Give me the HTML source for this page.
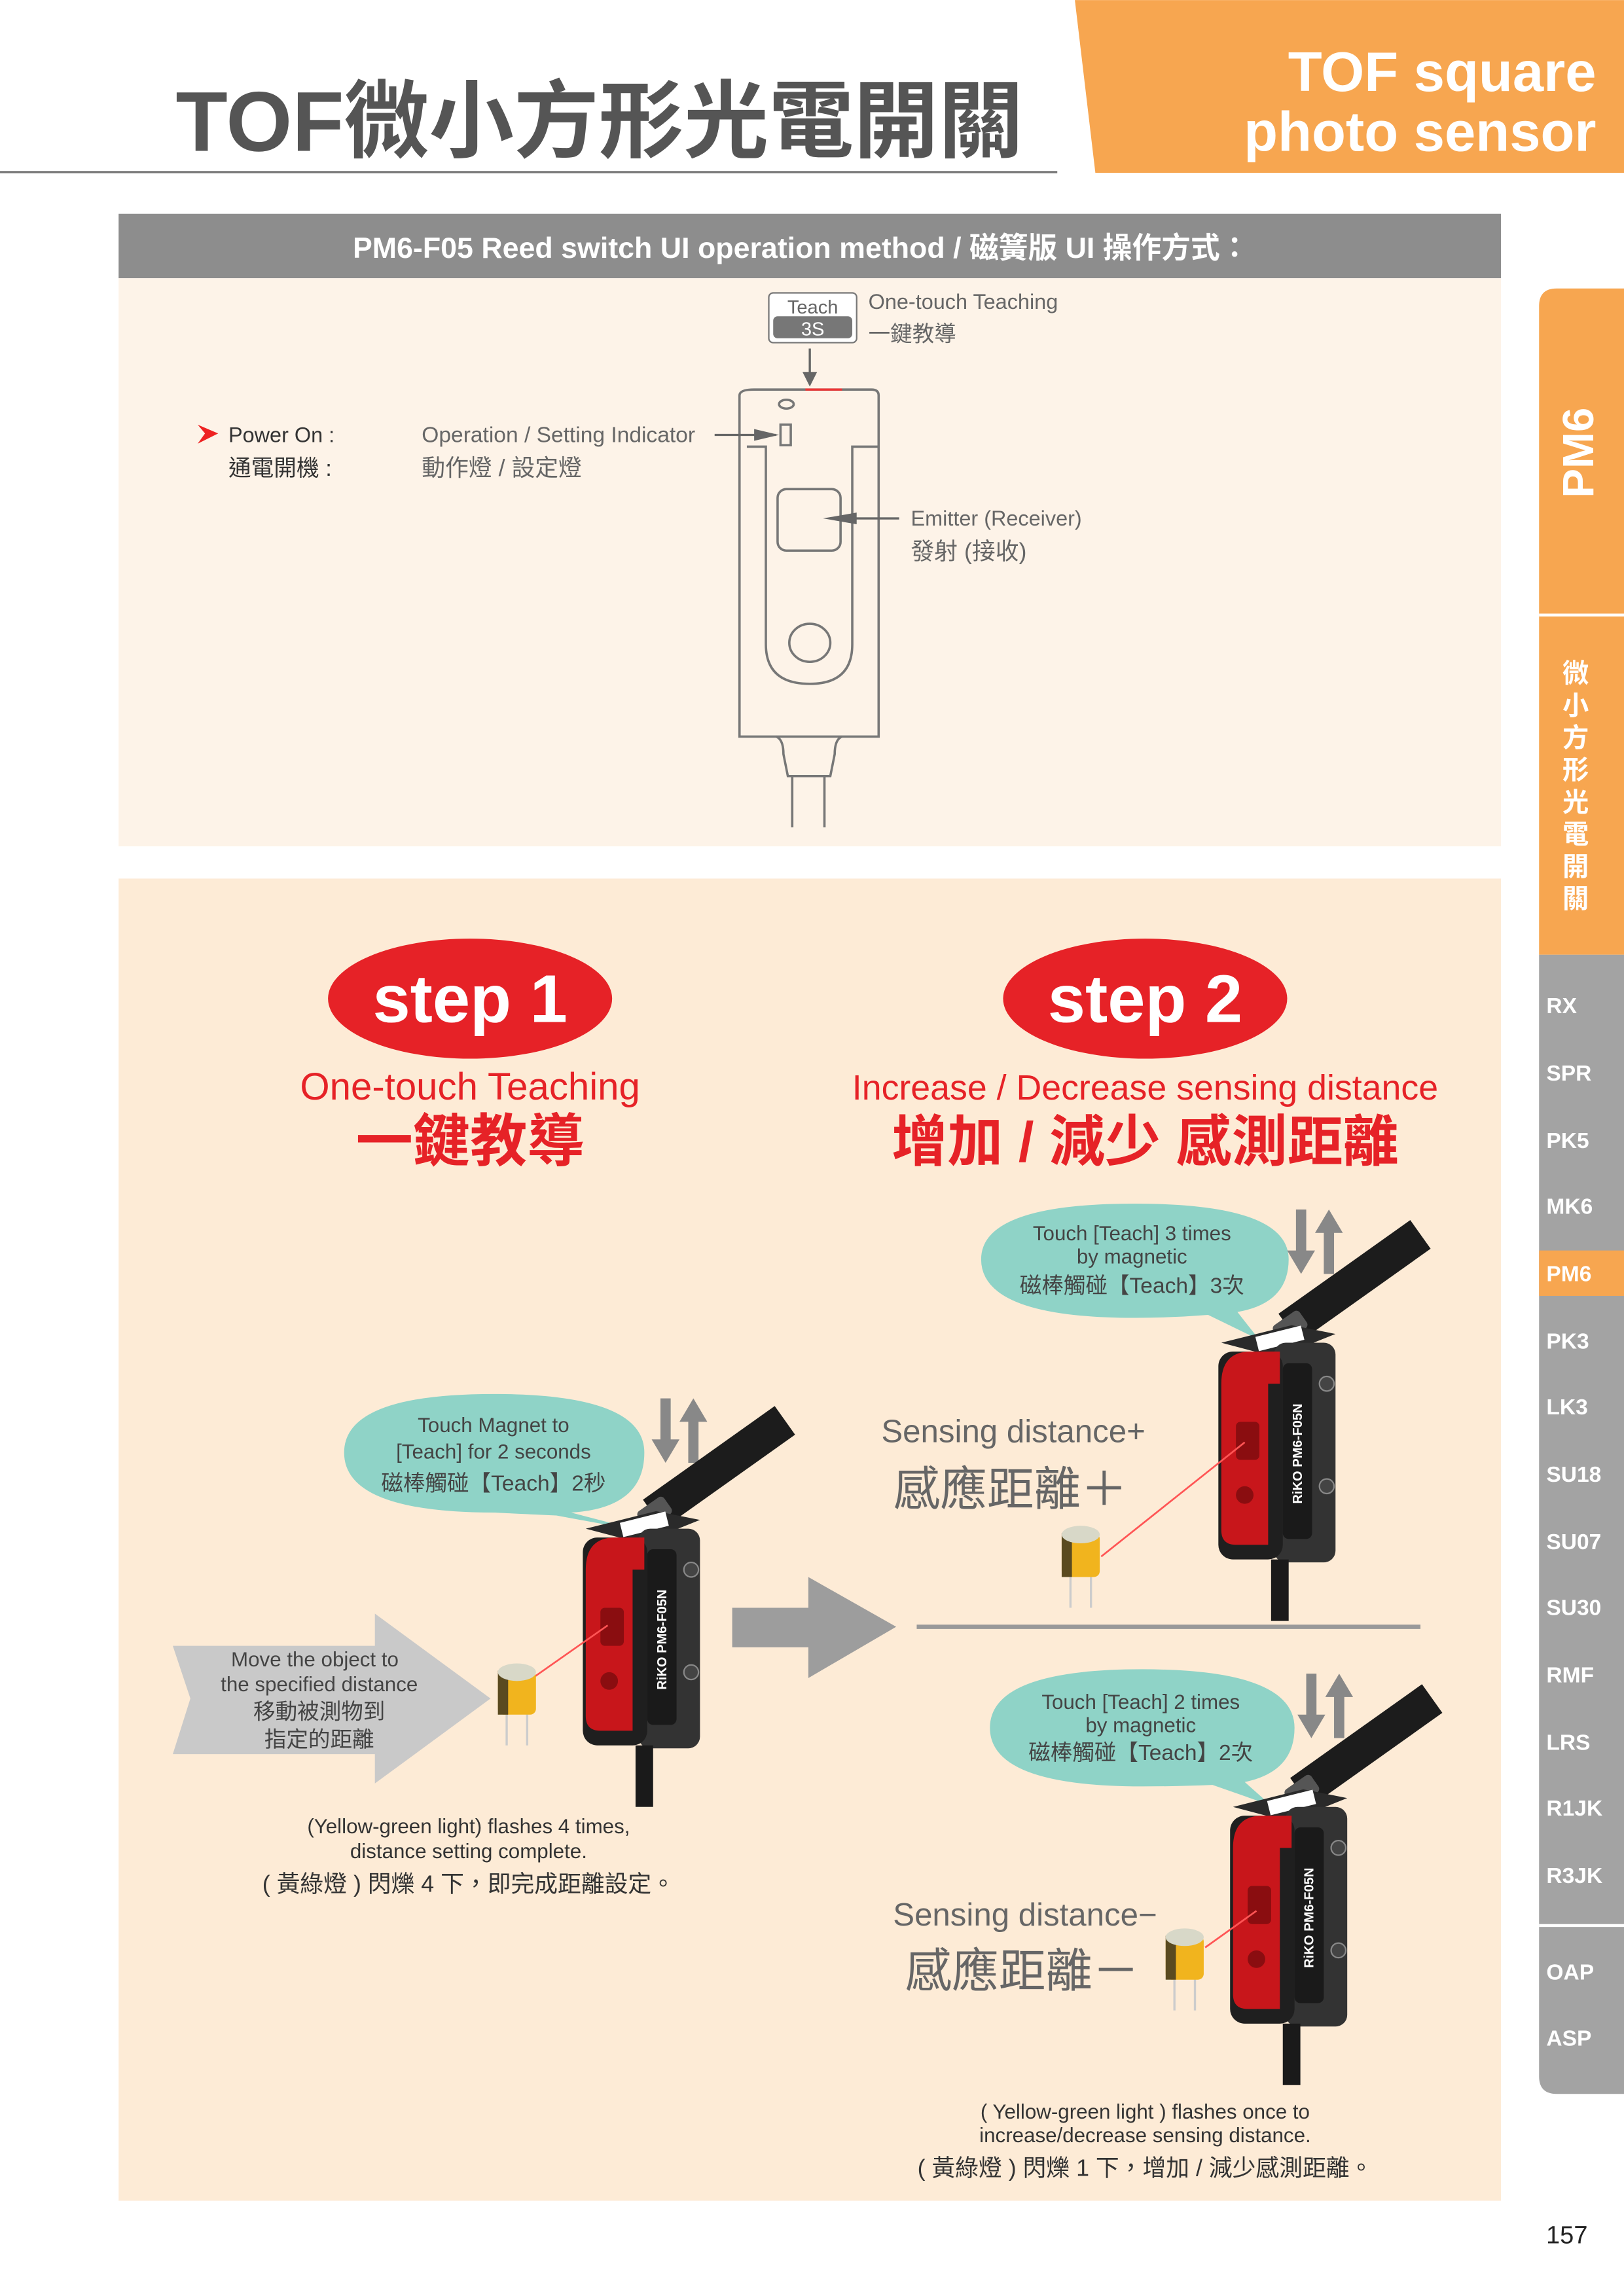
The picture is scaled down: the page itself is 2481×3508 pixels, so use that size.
<!DOCTYPE html>
<html><head><meta charset="utf-8"><style>
html,body{margin:0;padding:0;background:#fff}
svg{display:block}
text{font-family:"Liberation Sans","Noto Sans CJK TC",sans-serif}
</style></head><body>
<svg width="2481" height="3508" viewBox="0 0 1109 1568" xmlns="http://www.w3.org/2000/svg">
<defs>
<g id="sensor">
  <line x1="48" y1="2" x2="138" y2="-62" stroke="#1c1c1c" stroke-width="24" stroke-linecap="butt"/>
  <rect x="38" y="-6" width="22" height="14" rx="3" fill="#555" transform="rotate(-35 49 1)"/>
  <polygon points="2,12 50,0 80,6 40,22" fill="#2a2a2a"/>
  <rect x="26" y="4" width="32" height="10" fill="#fff" transform="rotate(-14 42 9)"/>
  <rect x="38" y="12" width="42" height="150" rx="8" fill="#333"/>
  <rect x="44" y="26" width="20" height="120" rx="4" fill="#1a1a1a"/>
  <text x="0" y="0" transform="translate(57 122) rotate(-90)" font-size="9" fill="#fff" font-weight="bold">RiKO PM6-F05N</text>
  <circle cx="74" cy="40" r="5" fill="#444" stroke="#888"/>
  <circle cx="74" cy="110" r="5" fill="#444" stroke="#888"/>
  <rect x="0" y="18" width="44" height="142" rx="10" fill="#1f1f1f"/>
  <path d="M2 40 Q2 18 22 18 L42 18 L42 40 L34 40 L34 150 L12 150 Q2 150 2 140 Z" fill="#c8161b"/>
  <rect x="12" y="66" width="16" height="26" rx="3" fill="#8a0d10"/>
  <circle cx="18" cy="116" r="6" fill="#8a0d10"/>
  <rect x="36" y="160" width="12" height="42" fill="#1a1a1a"/>
</g>
<g id="cap">
  <line x1="6" y1="30" x2="6" y2="55" stroke="#ccc" stroke-width="1.5"/>
  <line x1="20" y1="30" x2="20" y2="55" stroke="#ccc" stroke-width="1.5"/>
  <rect x="0" y="4" width="26" height="30" rx="4" fill="#f1b41e"/>
  <rect x="0" y="4" width="7" height="30" fill="#5a4a20"/>
  <ellipse cx="13" cy="5" rx="13" ry="6" fill="#d8d8c8"/>
</g>
<g id="updown">
  <rect x="3" y="0" width="7" height="32" fill="#888"/><polygon points="-3,28 16,28 6.5,44" fill="#888"/>
  <rect x="22" y="12" width="7" height="32" fill="#888"/><polygon points="16,16 35,16 25.5,0" fill="#888"/>
</g>
</defs>

<!-- header -->
<text x="120" y="103" font-size="58" font-weight="bold" fill="#555">TOF微小方形光電開關</text>
<line x1="0" y1="117.5" x2="722" y2="117.5" stroke="#777" stroke-width="1.5"/>
<polygon points="734,0 1109,0 1109,118 748,118" fill="#f7a650"/>
<text x="1090" y="62" font-size="38" font-weight="bold" fill="#fff" text-anchor="end">TOF square</text>
<text x="1090" y="103" font-size="38" font-weight="bold" fill="#fff" text-anchor="end">photo sensor</text>

<!-- sidebar -->
<path d="M1063 197 H1109 V652 H1051 V209 Q1051 197 1063 197 Z" fill="#f7a650"/>
<line x1="1051" y1="420" x2="1109" y2="420" stroke="#fff" stroke-width="2"/>
<text transform="translate(1088 340) rotate(-90)" font-size="30" font-weight="bold" fill="#fff">PM6</text>
<text x="1076" y="466" font-size="18" font-weight="bold" fill="#fff" text-anchor="middle">微</text>
<text x="1076" y="488" font-size="18" font-weight="bold" fill="#fff" text-anchor="middle">小</text>
<text x="1076" y="510" font-size="18" font-weight="bold" fill="#fff" text-anchor="middle">方</text>
<text x="1076" y="532" font-size="18" font-weight="bold" fill="#fff" text-anchor="middle">形</text>
<text x="1076" y="554" font-size="18" font-weight="bold" fill="#fff" text-anchor="middle">光</text>
<text x="1076" y="576" font-size="18" font-weight="bold" fill="#fff" text-anchor="middle">電</text>
<text x="1076" y="598" font-size="18" font-weight="bold" fill="#fff" text-anchor="middle">開</text>
<text x="1076" y="620" font-size="18" font-weight="bold" fill="#fff" text-anchor="middle">關</text>
<path d="M1051 652 H1109 V1430 H1063 Q1051 1430 1051 1418 Z" fill="#a3a3a3"/>
<rect x="1051" y="854" width="58" height="31" fill="#f7a650"/>
<line x1="1051" y1="1315" x2="1109" y2="1315" stroke="#fff" stroke-width="2"/>
<g font-size="15" font-weight="bold" fill="#fff">
<text x="1056" y="692">RX</text><text x="1056" y="738">SPR</text><text x="1056" y="784">PK5</text>
<text x="1056" y="829">MK6</text><text x="1056" y="875">PM6</text><text x="1056" y="921">PK3</text>
<text x="1056" y="966">LK3</text><text x="1056" y="1012">SU18</text><text x="1056" y="1058">SU07</text>
<text x="1056" y="1103">SU30</text><text x="1056" y="1149">RMF</text><text x="1056" y="1195">LRS</text>
<text x="1056" y="1240">R1JK</text><text x="1056" y="1286">R3JK</text><text x="1056" y="1352">OAP</text>
<text x="1056" y="1397">ASP</text>
</g>
<text x="1070" y="1532" font-size="17" fill="#222" text-anchor="middle">157</text>

<!-- top panel -->
<rect x="81" y="146" width="944" height="44" fill="#8d8d8d"/>
<text x="547" y="176" font-size="20" font-weight="bold" fill="#fff" text-anchor="middle">PM6-F05 Reed switch UI operation method / 磁簧版 UI 操作方式：</text>
<rect x="81" y="190" width="944" height="388" fill="#fdf3e8"/>

<rect x="525" y="200" width="60" height="34" rx="3" fill="#fff" stroke="#777" stroke-width="1"/>
<text x="555" y="214" font-size="13" fill="#666" text-anchor="middle">Teach</text>
<rect x="528" y="216" width="54" height="15" rx="3" fill="#777"/>
<text x="555" y="229" font-size="13" fill="#fff" text-anchor="middle">3S</text>
<text x="593" y="211" font-size="14.5" fill="#666">One-touch Teaching</text>
<text x="593" y="233" font-size="15" fill="#666">一鍵教導</text>
<line x1="553" y1="238" x2="553" y2="256" stroke="#666" stroke-width="1.5"/>
<polygon points="548,254 558,254 553,264" fill="#666"/>

<g fill="none" stroke="#777" stroke-width="1.6">
<path d="M505 270 Q505 266 515 266 L595 266 Q600 266 600 270 V503 H505 Z"/>
<path d="M510 305 H523 V440 Q523 467 553 467 Q582 467 582 440 V305 H600"/>
<ellipse cx="537" cy="276" rx="5" ry="3"/>
<rect x="533" y="290" width="7" height="14"/>
<rect x="531" y="334" width="43" height="42" rx="6"/>
<ellipse cx="553" cy="439" rx="14" ry="13"/>
<path d="M530 503 Q535 505 535 515 L538 530 H567 L570 515 Q570 505 575 503"/>
<path d="M541 530 V565 M563 530 V565"/>
</g>
<line x1="550" y1="266" x2="575" y2="266" stroke="#e33" stroke-width="1.5"/>
<line x1="488" y1="297" x2="530" y2="297" stroke="#666" stroke-width="1.5"/>
<polygon points="515,293 532,297 515,301" fill="#666"/>
<line x1="614" y1="354" x2="570" y2="354" stroke="#666" stroke-width="1.5"/>
<polygon points="585,350 562,354 585,358" fill="#666"/>

<polygon points="135,290 149,296 135,303 140,296" fill="#e22"/>
<text x="156" y="302" font-size="14.5" fill="#333">Power On :</text>
<text x="156" y="325" font-size="15.5" fill="#333">通電開機 :</text>
<text x="288" y="302" font-size="15" fill="#666">Operation / Setting Indicator</text>
<text x="288" y="325" font-size="16" fill="#666">動作燈 / 設定燈</text>
<text x="622" y="359" font-size="14.5" fill="#666">Emitter (Receiver)</text>
<text x="622" y="382" font-size="16" fill="#666">發射 (接收)</text>

<!-- bottom panel -->
<rect x="81" y="600" width="944" height="903" fill="#fdebd6"/>
<ellipse cx="321" cy="682" rx="97" ry="41" fill="#e62227"/>
<text x="321" y="698" font-size="46" font-weight="bold" fill="#fff" text-anchor="middle">step 1</text>
<ellipse cx="782" cy="682" rx="97" ry="41" fill="#e62227"/>
<text x="782" y="698" font-size="46" font-weight="bold" fill="#fff" text-anchor="middle">step 2</text>
<text x="321" y="751" font-size="26" fill="#e62227" text-anchor="middle">One-touch Teaching</text>
<text x="321" y="793" font-size="39" font-weight="bold" fill="#e62227" text-anchor="middle">一鍵教導</text>
<text x="782" y="751" font-size="24" fill="#e62227" text-anchor="middle">Increase / Decrease sensing distance</text>
<text x="782" y="793" font-size="38" font-weight="bold" fill="#e62227" text-anchor="middle">增加 / 減少 感測距離</text>

<!-- step1 -->
<path d="M235 992 Q235 952 337 952 Q440 952 440 992 Q440 1030 390 1033 L440 1046 L380 1035 Q338 1033 338 1033 Q235 1033 235 992 Z" fill="#8fd3c7"/>
<text x="337" y="978" font-size="14" fill="#444" text-anchor="middle">Touch Magnet to</text>
<text x="337" y="996" font-size="14" fill="#444" text-anchor="middle">[Teach] for 2 seconds</text>
<text x="337" y="1018" font-size="15" fill="#444" text-anchor="middle">磁棒觸碰【Teach】2秒</text>
<use href="#updown" x="448" y="955"/>
<use href="#sensor" x="398" y="1032"/>
<line x1="415" y1="1110" x2="358" y2="1150" stroke="#f55" stroke-width="1.2"/>
<use href="#cap" x="340" y="1137"/>
<polygon points="118,1124 256,1124 256,1102 335,1160 256,1218 256,1198 118,1198 130,1160" fill="#c9c9c9"/>
<text x="215" y="1138" font-size="14" fill="#444" text-anchor="middle">Move the object to</text>
<text x="218" y="1155" font-size="14" fill="#444" text-anchor="middle">the specified distance</text>
<text x="218" y="1174" font-size="15" fill="#444" text-anchor="middle">移動被測物到</text>
<text x="218" y="1193" font-size="15" fill="#444" text-anchor="middle">指定的距離</text>
<text x="320" y="1252" font-size="14" fill="#333" text-anchor="middle">(Yellow-green light) flashes 4 times,</text>
<text x="320" y="1269" font-size="14" fill="#333" text-anchor="middle">distance setting complete.</text>
<text x="320" y="1292" font-size="16" fill="#333" text-anchor="middle">( 黃綠燈 ) 閃爍 4 下，即完成距離設定。</text>

<polygon points="500,1098 552,1098 552,1077 612,1111 552,1146 552,1125 500,1125" fill="#9d9d9d"/>
<line x1="626" y1="1111" x2="970" y2="1111" stroke="#999" stroke-width="3"/>

<!-- step2 top -->
<path d="M670 860 Q670 822 775 822 Q880 822 880 860 Q880 890 845 896 L860 915 L825 898 Q800 900 775 900 Q670 900 670 860 Z" fill="#8fd3c7"/>
<text x="773" y="847" font-size="14" fill="#444" text-anchor="middle">Touch [Teach] 3 times</text>
<text x="773" y="863" font-size="14" fill="#444" text-anchor="middle">by magnetic</text>
<text x="773" y="883" font-size="15" fill="#444" text-anchor="middle">磁棒觸碰【Teach】3次</text>
<use href="#updown" x="882" y="826"/>
<use href="#sensor" x="832" y="905"/>
<line x1="850" y1="985" x2="752" y2="1063" stroke="#f55" stroke-width="1.2"/>
<use href="#cap" x="725" y="1043"/>
<text x="692" y="985" font-size="22" fill="#666" text-anchor="middle">Sensing distance+</text>
<text x="690" y="1028" font-size="32" fill="#666" text-anchor="middle">感應距離＋</text>

<!-- step2 bottom -->
<path d="M676 1180 Q676 1140 780 1140 Q884 1140 884 1180 Q884 1210 850 1217 L868 1233 L828 1219 Q805 1220 780 1220 Q676 1220 676 1180 Z" fill="#8fd3c7"/>
<text x="779" y="1167" font-size="14" fill="#444" text-anchor="middle">Touch [Teach] 2 times</text>
<text x="779" y="1183" font-size="14" fill="#444" text-anchor="middle">by magnetic</text>
<text x="779" y="1202" font-size="15" fill="#444" text-anchor="middle">磁棒觸碰【Teach】2次</text>
<use href="#updown" x="889" y="1143"/>
<use href="#sensor" x="840" y="1222"/>
<line x1="858" y1="1305" x2="823" y2="1330" stroke="#f55" stroke-width="1.2"/>
<use href="#cap" x="796" y="1318"/>
<text x="700" y="1315" font-size="22" fill="#666" text-anchor="middle">Sensing distance−</text>
<text x="698" y="1357" font-size="32" fill="#666" text-anchor="middle">感應距離－</text>

<text x="782" y="1447" font-size="14" fill="#333" text-anchor="middle">( Yellow-green light ) flashes once to</text>
<text x="782" y="1463" font-size="14" fill="#333" text-anchor="middle">increase/decrease sensing distance.</text>
<text x="782" y="1486" font-size="16" fill="#333" text-anchor="middle">( 黃綠燈 ) 閃爍 1 下，增加 / 減少感測距離。</text>
</svg>
</body></html>
